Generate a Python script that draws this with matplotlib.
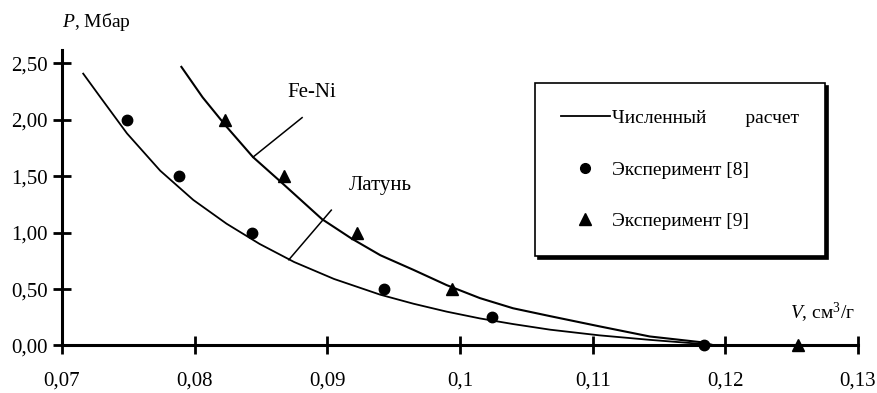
import matplotlib
matplotlib.use("Agg")
import matplotlib.pyplot as plt
from matplotlib.lines import Line2D

plt.rcParams['font.family'] = ['Liberation Serif', 'DejaVu Serif']
plt.rcParams['mathtext.fontset'] = 'custom'
plt.rcParams['mathtext.rm'] = 'Liberation Serif'
plt.rcParams['mathtext.it'] = 'Liberation Serif:italic'

# calculated curves
brass_v = [0.0716, 0.0729, 0.0749, 0.0774, 0.0799, 0.0824, 0.0849, 0.0875, 0.0905,
           0.0940, 0.0965, 0.0990, 0.1015, 0.1040, 0.1068, 0.1105, 0.1143, 0.1181, 0.1195]
brass_p = [2.41, 2.20, 1.88, 1.55, 1.29, 1.08, 0.90, 0.74, 0.59,
           0.45, 0.37, 0.30, 0.24, 0.19, 0.14, 0.09, 0.05, 0.015, 0.0]
feni_v = [0.0790, 0.0806, 0.0824, 0.0844, 0.0865, 0.0896, 0.0918, 0.0940, 0.0965,
          0.0990, 0.1015, 0.1040, 0.1068, 0.1105, 0.1143, 0.1181, 0.1192]
feni_p = [2.47, 2.20, 1.94, 1.67, 1.45, 1.12, 0.95, 0.80, 0.67,
          0.535, 0.42, 0.33, 0.26, 0.17, 0.08, 0.03, 0.0]

# experiments
exp8_v = [0.0749, 0.0788, 0.0843, 0.0943, 0.1024, 0.1184]
exp8_p = [2.00, 1.50, 1.00, 0.50, 0.25, 0.00]
exp9_v = [0.0823, 0.0867, 0.0922, 0.0994, 0.1255]
exp9_p = [2.00, 1.50, 1.00, 0.50, 0.00]

xticks = [0.07, 0.08, 0.09, 0.10, 0.11, 0.12, 0.13]
xlabels = ['0,07', '0,08', '0,09', '0,1', '0,11', '0,12', '0,13']
yticks = [0.0, 0.5, 1.0, 1.5, 2.0, 2.5]
ylabels = ['0,00', '0,50', '1,00', '1,50', '2,00', '2,50']

fig = plt.figure(figsize=(8.78, 3.93), dpi=100)
ax = fig.add_axes([0.0706, 0.1209, 0.9066, 0.752])

ax.plot(brass_v, brass_p, color='black', lw=1.3, clip_on=False)
ax.plot(feni_v, feni_p, color='black', lw=1.5, clip_on=False)
ax.plot(exp8_v, exp8_p, 'o', color='black', ms=7.5, clip_on=False, zorder=5)
ax.plot(exp9_v, exp9_p, '^', color='black', ms=8, clip_on=False, zorder=5)

# leader lines to curve names
ax.plot([0.0881, 0.0844], [2.02, 1.67], color='black', lw=1.1)
ax.plot([0.0903, 0.0871], [1.20, 0.76], color='black', lw=1.1)
ax.text(0.0888, 2.24, 'Fe-Ni', fontsize=15, ha='center', va='center')
ax.text(0.0940, 1.42, 'Латунь', fontsize=15, ha='center', va='center')

ax.set_xlim(0.07, 0.13)
ax.set_ylim(0, 2.62)
ax.set_xticks(xticks)
ax.set_xticklabels(xlabels)
ax.set_yticks(yticks)
ax.set_yticklabels(ylabels)
for s in ['top', 'right']:
    ax.spines[s].set_visible(False)
for s in ['left', 'bottom']:
    ax.spines[s].set_linewidth(2.2)
ax.spines['bottom'].set_bounds(0.07, 0.13)
ax.tick_params(axis='both', direction='inout', length=13, width=2, labelsize=15)
ax.tick_params(axis='y', pad=4)
ax.tick_params(axis='x', pad=12)

ax.text(0.0, 1.095, '$\\mathit{P}$, Мбар', transform=ax.transAxes, fontsize=14,
        ha='left', va='center')
ax.text(0.1249, 0.29, '$\\mathit{V}$, см$^{3}$/г', fontsize=14, ha='left', va='center')

handles = [Line2D([], [], color='black', lw=1.3),
           Line2D([], [], marker='o', color='black', ls='none', ms=7),
           Line2D([], [], marker='^', color='black', ls='none', ms=8)]
labels = ['Численный        расчет', 'Эксперимент [8]', 'Эксперимент [9]']
leg = ax.legend(handles, labels, loc='upper left', bbox_to_anchor=(0.594, 0.888),
                fontsize=14, frameon=True, fancybox=False, borderaxespad=0,
                handlelength=2.5, handletextpad=0.1, labelspacing=1.75,
                borderpad=1.35, shadow={'color': 'black', 'alpha': 1})
leg.get_frame().set_edgecolor('black')
leg.get_frame().set_linewidth(1.2)

fig.savefig('out.png', dpi=100)
